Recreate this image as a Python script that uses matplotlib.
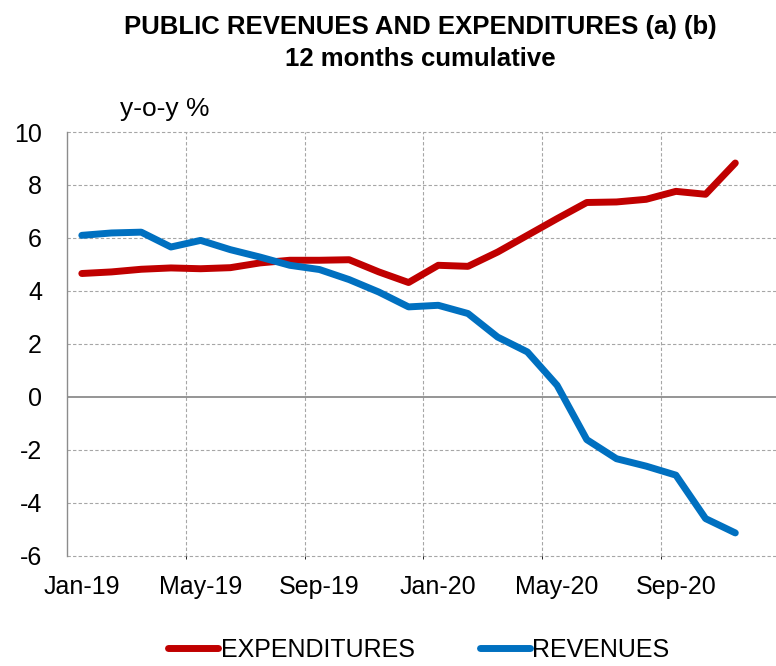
import numpy as np
import matplotlib
matplotlib.use("Agg")
import matplotlib.pyplot as plt
from matplotlib.ticker import FixedLocator

plt.rcParams['font.family'] = ['Liberation Sans', 'DejaVu Sans']

# data (12 months cumulative, y-o-y %)
months = ["Jan-19", "Feb-19", "Mar-19", "Apr-19", "May-19", "Jun-19", "Jul-19", "Aug-19",
          "Sep-19", "Oct-19", "Nov-19", "Dec-19", "Jan-20", "Feb-20", "Mar-20", "Apr-20",
          "May-20", "Jun-20", "Jul-20", "Aug-20", "Sep-20", "Oct-20", "Nov-20"]
expenditures = [4.66, 4.72, 4.82, 4.87, 4.84, 4.88, 5.06, 5.16, 5.16, 5.18, 4.72, 4.32,
                4.97, 4.93, 5.47, 6.10, 6.73, 7.34, 7.36, 7.46, 7.76, 7.65, 8.83]
revenues = [6.10, 6.19, 6.22, 5.66, 5.91, 5.56, 5.28, 4.97, 4.81, 4.43, 3.96, 3.40,
            3.46, 3.15, 2.26, 1.70, 0.44, -1.61, -2.33, -2.61, -2.95, -4.59, -5.13]
yticks = [-6, -4, -2, 0, 2, 4, 6, 8, 10]

RED = "#C00000"
BLUE = "#0070C0"
GRID = "#A6A6A6"

fig = plt.figure(figsize=(7.76, 6.66), dpi=100)
ax = fig.add_axes([0.0863, 0.1652, 0.9137, 0.6366])

x = np.arange(len(months))
ax.plot(x, expenditures, color=RED, lw=5, solid_capstyle='round', solid_joinstyle='round',
        label="EXPENDITURES", zorder=3)
ax.plot(x, revenues, color=BLUE, lw=5, solid_capstyle='round', solid_joinstyle='round',
        label="REVENUES", zorder=3)

ax.set_xlim(-0.5, 23.37)
ax.set_ylim(-6, 10)
ax.set_yticks(yticks)
ax.set_yticklabels([str(v) for v in yticks])
ax.set_xticks(x[::4])
ax.set_xticklabels(months[::4])
ax.xaxis.set_minor_locator(FixedLocator(np.arange(3.5, 23, 4)))

ax.tick_params(axis='both', length=0, labelsize=18, colors='black')
ax.tick_params(axis='y', pad=18)
ax.tick_params(axis='x', pad=14)

# gridlines
for v in yticks:
    if v == 0:
        ax.axhline(0, color="#8C8C8C", lw=1.3, zorder=2)
    else:
        ax.axhline(v, color=GRID, lw=0.8, ls=(0, (3, 2)), zorder=1, clip_on=False)
ax.grid(which='minor', axis='x', color=GRID, lw=0.8, ls=(0, (3, 2)))

for s in ['top', 'right', 'bottom']:
    ax.spines[s].set_visible(False)
ax.spines['left'].set_color("#8C8C8C")
ax.spines['left'].set_linewidth(1.0)

fig.text(0.541, 0.960, "PUBLIC REVENUES AND EXPENDITURES (a) (b)", ha='center', va='center',
         fontsize=18.5, fontweight='bold')
fig.text(0.541, 0.912, "12 months cumulative", ha='center', va='center',
         fontsize=18.5, fontweight='bold')
fig.text(0.155, 0.836, "y-o-y %", ha='left', va='center', fontsize=19)

fig.legend(loc='center', bbox_to_anchor=(0.54, 0.024), ncol=2, frameon=False,
           fontsize=18, handlelength=2.0, handletextpad=0.1, columnspacing=2.6)

fig.savefig("out.png", dpi=100)
